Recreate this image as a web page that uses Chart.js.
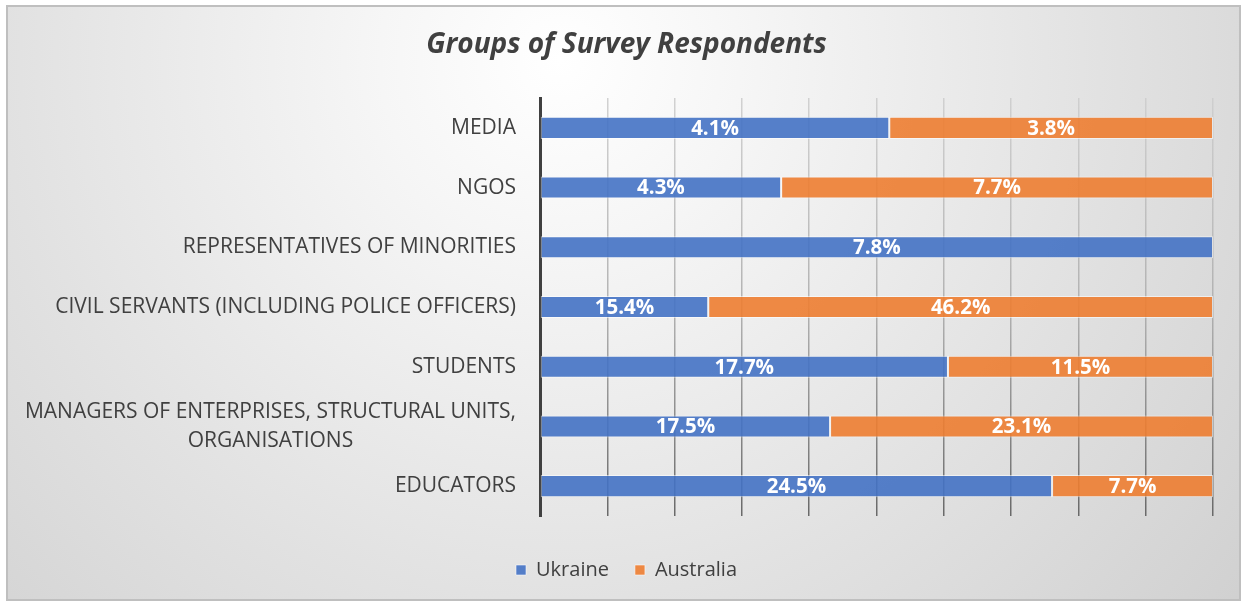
<!DOCTYPE html>
<html>
<head>
<meta charset="utf-8">
<title>Groups of Survey Respondents</title>
<script src="https://cdn.jsdelivr.net/npm/chart.js@4/dist/chart.umd.min.js"></script>
<style>
  html, body { margin: 0; padding: 0; background: #ffffff; }
  #chart { display: block; }
</style>
</head>
<body>
<canvas id="chart" width="1244" height="604"></canvas>
<script>
// Respondent groups, listed top to bottom
const categories = [
  'MEDIA',
  'NGOS',
  'REPRESENTATIVES OF MINORITIES',
  'CIVIL SERVANTS (INCLUDING POLICE OFFICERS)',
  'STUDENTS',
  ['MANAGERS OF ENTERPRISES, STRUCTURAL UNITS,', 'ORGANISATIONS'],
  'EDUCATORS'
];

// Share of respondents in each group (%)
const ukraine   = [4.1, 4.3, 7.8, 15.4, 17.7, 17.5, 24.5];
const australia = [3.8, 7.7, 0.0, 46.2, 11.5, 23.1, 7.7];

const seriesNames = ['Ukraine', 'Australia'];

// 100% stacked: each row is split in proportion to the two countries' values
const rowShare = (arr, i) => {
  const total = ukraine[i] + australia[i];
  return total > 0 ? (arr[i] / total) * 100 : 0;
};
const ukraineShare   = ukraine.map((_, i) => rowShare(ukraine, i));
const australiaShare = australia.map((_, i) => rowShare(australia, i));

const FONT = '"Open Sans", Lato, "DejaVu Sans", sans-serif';
const TEXT = '#404040';
const LEFT_PAD = 40;

// Soft radial backdrop with a thin grey frame
const backdrop = {
  id: 'backdrop',
  beforeDraw(chart) {
    const { ctx, width, height } = chart;
    ctx.save();
    ctx.fillStyle = '#ffffff';
    ctx.fillRect(0, 0, width, height);
    const g = ctx.createRadialGradient(560, 60, 0, 560, 60, 900);
    g.addColorStop(0, '#ffffff');
    g.addColorStop(0.2, '#f6f6f6');
    g.addColorStop(0.6, '#e2e2e2');
    g.addColorStop(1, '#cfcfcf');
    ctx.fillStyle = g;
    ctx.fillRect(7, 6, width - 11, height - 10);
    ctx.strokeStyle = '#bfbfbf';
    ctx.lineWidth = 2;
    ctx.strokeRect(7, 6, width - 11, height - 10);
    ctx.restore();
  }
};

// Category labels: right-aligned block, wrapped lines centred within it
const categoryLabels = {
  id: 'categoryLabels',
  afterDraw(chart) {
    const { ctx } = chart;
    const y = chart.scales.y;
    const right = chart.chartArea.left - 24;
    const lineH = 29;
    ctx.save();
    ctx.font = '21px ' + FONT;
    ctx.fillStyle = TEXT;
    ctx.textBaseline = 'middle';
    ctx.textAlign = 'center';
    categories.forEach((label, i) => {
      const lines = Array.isArray(label) ? label : [label];
      const blockW = Math.max(...lines.map(l => ctx.measureText(l).width));
      const cx = right - blockW / 2;
      const cy = y.getPixelForValue(i);
      const top = cy - (lines.length - 1) * lineH / 2;
      lines.forEach((l, k) => ctx.fillText(l, cx, top + k * lineH));
    });
    ctx.restore();
  }
};

// Value labels inside each segment, showing the original percentage
const valueLabels = {
  id: 'valueLabels',
  afterDatasetsDraw(chart) {
    const { ctx } = chart;
    const sources = [ukraine, australia];
    ctx.save();
    ctx.font = 'bold 20.5px ' + FONT;
    ctx.fillStyle = '#ffffff';
    ctx.textAlign = 'center';
    ctx.textBaseline = 'middle';
    chart.data.datasets.forEach((ds, d) => {
      const meta = chart.getDatasetMeta(d);
      meta.data.forEach((bar, i) => {
        const v = sources[d][i];
        if (!v) return;
        const cx = (bar.x + bar.base) / 2;
        ctx.fillText(v.toFixed(1) + '%', cx, bar.y + 1);
      });
    });
    ctx.restore();
  }
};

const gridColor = (c) => {
  const chart = c.chart;
  const a = chart.chartArea;
  if (!a) return 'rgba(150,150,150,0.6)';
  const g = chart.ctx.createLinearGradient(0, a.top, 0, a.bottom);
  g.addColorStop(0, 'rgba(205,205,205,0.9)');
  g.addColorStop(0.5, 'rgba(175,175,175,0.95)');
  g.addColorStop(1, 'rgba(105,105,105,1)');
  return g;
};

new Chart(document.getElementById('chart'), {
  type: 'bar',
  data: {
    labels: categories,
    datasets: [
      {
        label: seriesNames[0],
        data: ukraineShare,
        backgroundColor: 'rgba(68,114,196,0.9)',
        borderColor: 'rgba(255,255,255,0.55)',
        borderWidth: 1,
        borderSkipped: false,
        categoryPercentage: 1,
        barPercentage: 0.37
      },
      {
        label: seriesNames[1],
        data: australiaShare,
        backgroundColor: 'rgba(237,125,49,0.9)',
        borderColor: 'rgba(255,255,255,0.55)',
        borderWidth: 1,
        borderSkipped: false,
        categoryPercentage: 1,
        barPercentage: 0.37
      }
    ]
  },
  options: {
    responsive: false,
    animation: false,
    indexAxis: 'y',
    layout: { padding: { left: LEFT_PAD, right: 31, top: 0, bottom: 14 } },
    scales: {
      x: {
        stacked: true,
        min: 0,
        max: 100,
        ticks: { display: false, stepSize: 10 },
        grid: { color: gridColor, lineWidth: 1.5, drawTicks: false },
        border: { display: false },
        afterFit(s) { s.height = 18; }
      },
      y: {
        stacked: true,
        ticks: { display: false },
        grid: { display: false },
        border: { display: true, color: '#404040', width: 3 },
        afterFit(s) { s.width = 540 - LEFT_PAD; }
      }
    },
    plugins: {
      title: {
        display: true,
        text: 'Groups of Survey Respondents',
        color: TEXT,
        font: { family: FONT, size: 28, weight: 'bold', style: 'italic' },
        padding: { top: 28, bottom: 36.4 }
      },
      legend: {
        position: 'bottom',
        labels: {
          color: TEXT,
          font: { family: FONT, size: 20 },
          boxWidth: 10,
          boxHeight: 10,
          padding: 26
        }
      },
      tooltip: { enabled: false }
    }
  },
  plugins: [backdrop, categoryLabels, valueLabels]
});
</script>
</body>
</html>
